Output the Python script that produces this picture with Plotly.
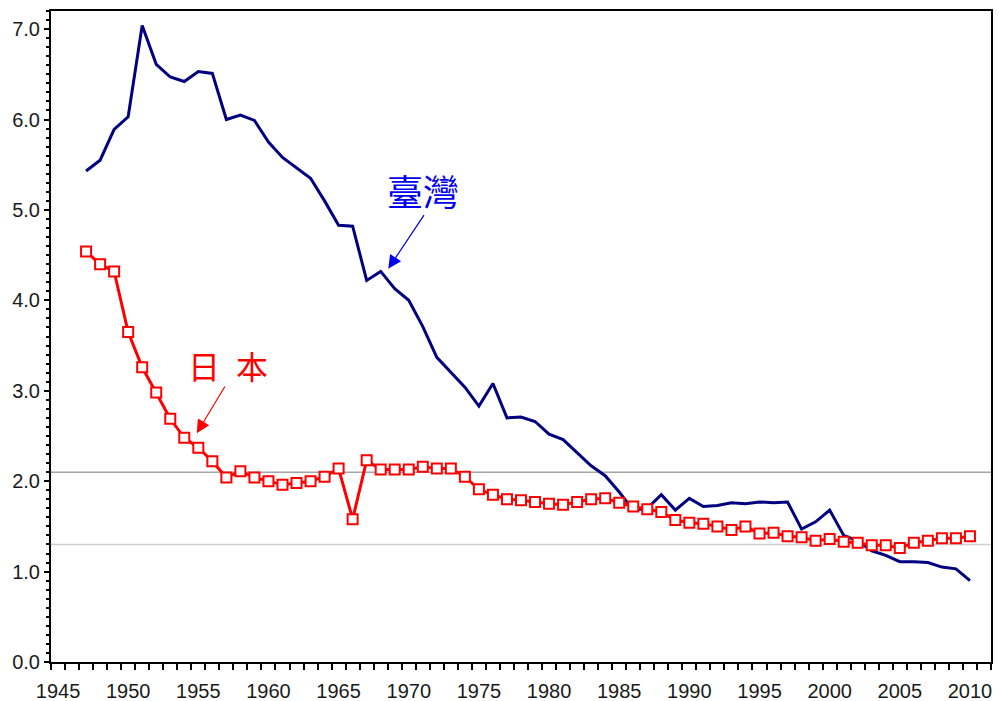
import plotly.graph_objects as go

years = list(range(1947, 2011))

taiwan_tfr = [5.43, 5.55, 5.89, 6.03, 7.04, 6.61, 6.47, 6.42, 6.53, 6.51,
              6.00, 6.05, 5.99, 5.75, 5.58, 5.47, 5.35, 5.10, 4.83, 4.82,
              4.22, 4.32, 4.13, 4.00, 3.71, 3.37, 3.21, 3.04, 2.83, 3.08,
              2.70, 2.71, 2.66, 2.52, 2.46, 2.32, 2.17, 2.06, 1.88, 1.68,
              1.70, 1.85, 1.68, 1.81, 1.72, 1.73, 1.76, 1.75, 1.77, 1.76,
              1.77, 1.47, 1.55, 1.68, 1.40, 1.34, 1.23, 1.18, 1.11, 1.11,
              1.10, 1.05, 1.03, 0.90]

japan_tfr = [4.54, 4.40, 4.32, 3.65, 3.26, 2.98, 2.69, 2.48, 2.37, 2.22,
             2.04, 2.11, 2.04, 2.00, 1.96, 1.98, 2.00, 2.05, 2.14, 1.58,
             2.23, 2.13, 2.13, 2.13, 2.16, 2.14, 2.14, 2.05, 1.91, 1.85,
             1.80, 1.79, 1.77, 1.75, 1.74, 1.77, 1.80, 1.81, 1.76, 1.72,
             1.69, 1.66, 1.57, 1.54, 1.53, 1.50, 1.46, 1.50, 1.42, 1.43,
             1.39, 1.38, 1.34, 1.36, 1.33, 1.32, 1.29, 1.29, 1.26, 1.32,
             1.34, 1.37, 1.37, 1.39]

x_tick_vals = list(range(1945, 2011, 5))
x_tick_text = [str(v) for v in x_tick_vals]
y_tick_vals = [0, 1, 2, 3, 4, 5, 6, 7]
y_tick_text = ["%.1f" % v for v in y_tick_vals]
ref_levels = [2.1, 1.3]
ref_colors = ["#a6a6a6", "#d0d0d0"]

fig = go.Figure()

for lvl, col in zip(ref_levels, ref_colors):
    fig.add_shape(type="line", xref="paper", x0=0, x1=1, yref="y", y0=lvl, y1=lvl,
                  line=dict(color=col, width=1.5), layer="below")

fig.add_trace(go.Scatter(
    x=years, y=taiwan_tfr, mode="lines", name="臺灣",
    line=dict(color="#000080", width=3),
))
fig.add_trace(go.Scatter(
    x=years, y=japan_tfr, mode="lines+markers", name="日本",
    line=dict(color="#ff0000", width=3),
    marker=dict(symbol="square", size=10, color="white",
                line=dict(color="#ff0000", width=2)),
))

cjk = "Noto Sans CJK TC, Noto Sans CJK SC, sans-serif"

fig.add_annotation(x=1971.0, y=5.22, text="臺灣", showarrow=False,
                   font=dict(family=cjk, size=36, color="#0000ee"))
fig.add_annotation(x=1957.12, y=3.29, text="日\u2002本", showarrow=False,
                   font=dict(family=cjk, size=32, color="#ff0000"))
fig.add_annotation(x=1968.54, y=4.35, text="", showarrow=True,
                   ax=36.7, ay=-55, axref="pixel", ayref="pixel",
                   arrowhead=2, arrowsize=2.2, arrowwidth=1.2, arrowcolor="#0000ee",
                   standoff=0, startstandoff=0)
fig.add_annotation(x=1954.89, y=2.53, text="", showarrow=True,
                   ax=29, ay=-48.3, axref="pixel", ayref="pixel",
                   arrowhead=2, arrowsize=2.2, arrowwidth=1.2, arrowcolor="#ff0000",
                   standoff=0, startstandoff=0)

tick_font = dict(family="Liberation Sans, Arial, sans-serif", size=20, color="#1a1a1a")

fig.update_layout(
    width=999, height=701,
    margin=dict(l=51, r=8, t=11, b=39),
    paper_bgcolor="white", plot_bgcolor="white",
    showlegend=False,
    xaxis=dict(
        range=[1944.5, 2011.5], showgrid=False, zeroline=False, automargin=False,
        showline=True, linecolor="black", linewidth=2, mirror=True,
        tickmode="array", tickvals=x_tick_vals, ticktext=x_tick_text,
        ticks="outside", ticklen=10, tickwidth=0.01, tickcolor="rgba(0,0,0,0)",
        tickfont=tick_font,
        minor=dict(tickmode="linear", tick0=1944.5, dtick=1, ticks="outside",
                   ticklen=6, tickwidth=2, tickcolor="black", showgrid=False),
    ),
    yaxis=dict(
        range=[0, 7.2], showgrid=False, zeroline=False, automargin=False,
        showline=True, linecolor="black", linewidth=2, mirror=True,
        tickmode="array", tickvals=y_tick_vals, ticktext=y_tick_text,
        ticks="outside", ticklen=5, tickwidth=2, tickcolor="black",
        tickfont=tick_font,
        minor=dict(tickmode="linear", tick0=0, dtick=0.1, ticks="outside",
                   ticklen=3, tickwidth=1.5, tickcolor="black", showgrid=False),
    ),
)

fig.write_html("out.html", config={"displayModeBar": False},
               post_script="document.body.style.margin='0';")
